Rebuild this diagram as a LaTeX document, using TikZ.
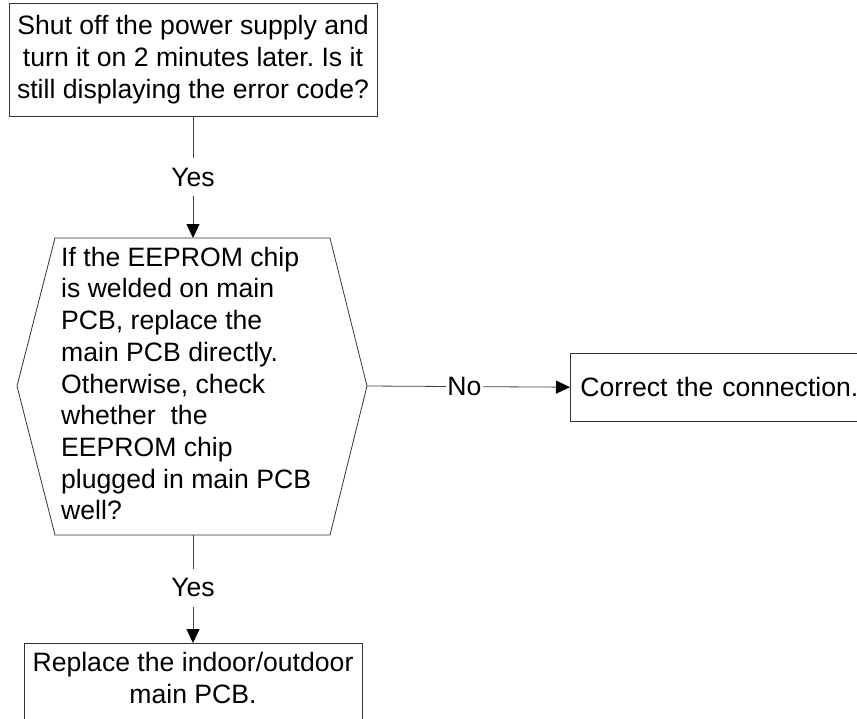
\documentclass[tikz,border=0pt]{standalone}
\usepackage{fontspec}
\setmainfont{Liberation Sans}
\usetikzlibrary{arrows.meta}
\frenchspacing
\tikzset{
  txtfont/.style={font={\frenchspacing\fontsize{26.6}{31.7}\selectfont}},
  outline/.style={draw=black!80, line width=0.8pt},
  flowbox/.style={outline, txtfont, rectangle, inner sep=0pt, align=center},
  plaintext/.style={txtfont, inner sep=0pt},
  conn/.style={draw=black!75, line width=0.8pt, -{Triangle[length=14pt,width=13pt,color=black]}},
  lbl/.style={txtfont, fill=white, inner xsep=1.5pt, inner ysep=10pt}
}
\begin{document}
\begin{tikzpicture}[x=1pt,y=-1pt]
\useasboundingbox (0,0) rectangle (857,718);
% top box
\node[flowbox, minimum width=368pt, minimum height=113pt] (q1) at (193,59.5)
  {Shut off the power supply and\\turn it on 2 minutes later. Is it\\still displaying the error code?};
% hexagon
\coordinate (hexT) at (193,238);
\coordinate (hexB) at (193,535);
\coordinate (hexR) at (367,386);
\coordinate (hexL) at (17,386);
\draw[outline] (55,238) -- (330,238) -- (hexR) -- (330,535) -- (55,535) -- (hexL) -- cycle;
\node[plaintext, anchor=west, align=left] (q2) at (61,383.5)
  {If the EEPROM chip\\is welded on main\\PCB, replace the\\main PCB directly.\\Otherwise, check\\whether~ the\\EEPROM chip\\plugged in main PCB\\well?};
% right box
\node[outline, txtfont, rectangle, anchor=west, text width=280pt, inner xsep=10pt, inner ysep=0pt, minimum height=67.7pt, align=left] (corr) at (570,387.2)
  {Correct the connection.};
% bottom box
\node[outline, rectangle, minimum width=338pt, minimum height=100pt, anchor=north] (fin) at (193,643) {};
\node[plaintext, align=center] (fintxt) at (193,678) {Replace the indoor/outdoor\\main PCB.};
% connectors
\draw[conn] (q1.south) -- node[lbl] (y1) {Yes} (hexT);
\draw[conn] (hexR) -- node[lbl, pos=0.48] (n1) {No} (corr.west);
\draw[conn] (hexB) -- node[lbl, pos=0.49] (y2) {Yes} (fin.north);
\end{tikzpicture}
\end{document}
